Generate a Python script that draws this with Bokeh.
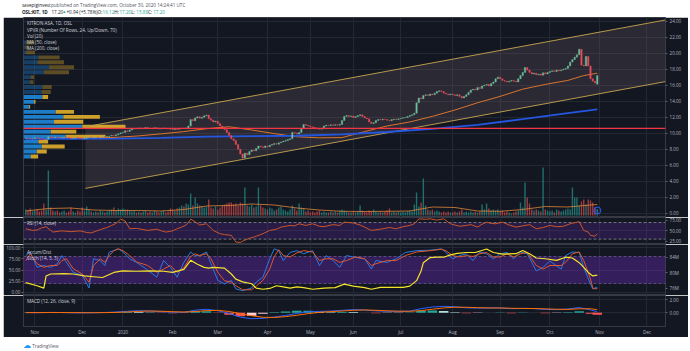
import pandas as pd
from bokeh.plotting import figure
from bokeh.layouts import column
from bokeh.models import (Range1d, LinearAxis, FixedTicker, Label, BoxAnnotation,
                          Span, PrintfTickFormatter, ColumnDataSource)
from bokeh.embed import file_html
from bokeh.resources import INLINE
from bokeh.core.properties import value

# ------------------------------------------------------------------ data
closes = [
    9.40, 9.36, 9.30, 9.34, 9.42, 9.38, 9.31, 9.26, 9.20, 9.24,
    9.56, 9.50, 9.46, 9.52, 9.48, 9.40, 9.44, 9.50, 9.46, 9.41,
    9.32, 9.36, 9.42, 9.38, 9.34, 9.28, 9.36, 9.46, 9.50, 9.44,
    9.48, 9.52, 9.46, 9.50, 9.56, 9.52, 9.60, 9.66, 9.74, 9.68,
    9.80, 9.92, 10.04, 10.10, 10.30, 10.22, 10.40, 10.52, 10.60, 10.56,
    10.66, 10.58, 10.62, 10.70, 10.64, 10.56, 10.60, 10.68, 10.62, 10.54,
    10.58, 10.64, 10.60, 10.56, 10.50, 10.46, 10.54, 10.48, 10.56, 10.62,
    10.58, 10.66, 10.90, 11.70, 11.56, 11.90, 12.06, 11.86, 12.00, 12.18,
    12.26, 11.80, 11.62, 11.40, 11.50, 11.20, 10.90, 10.70, 10.44, 10.10,
    9.70, 9.30, 9.10, 8.60, 8.00, 7.40, 6.90, 7.50, 7.30, 7.70,
    7.90, 7.80, 8.10, 8.40, 8.30, 8.20, 8.40, 8.30, 8.50, 8.60,
    8.70, 8.62, 8.80, 8.90, 9.00, 9.10, 9.20, 9.30, 10.10, 10.00,
    9.90, 10.10, 10.60, 11.10, 11.00, 10.90, 10.80, 10.70, 10.66, 10.56,
    10.50, 10.60, 10.90, 11.00, 10.96, 11.04, 10.98, 11.06, 11.00, 11.10,
    11.60, 12.10, 12.20, 12.10, 12.16, 11.96, 12.08, 12.20, 12.30, 12.10,
    11.90, 11.80, 11.40, 11.20, 11.30, 11.60, 11.70, 11.66, 11.74, 11.70,
    11.62, 11.56, 11.70, 11.76, 11.70, 11.80, 11.86, 11.92, 11.96, 12.10,
    12.20, 12.30, 12.50, 13.80, 14.40, 14.30, 14.70, 14.80, 14.70, 14.90,
    14.80, 15.00, 15.20, 15.30, 15.20, 15.00, 14.90, 14.80, 14.90, 14.80,
    14.70, 14.80, 14.60, 14.40, 14.60, 14.80, 15.10, 15.40, 15.50, 15.40,
    15.70, 15.60, 15.90, 16.00, 16.10, 15.90, 16.20, 16.40, 16.80, 17.00,
    16.80, 16.60, 16.50, 16.40, 16.50, 16.60, 16.50, 16.40, 16.80, 17.20,
    17.60, 18.20, 17.90, 17.60, 17.40, 17.50, 17.30, 17.40, 17.25, 17.55,
    17.40, 17.60, 17.70, 17.80, 17.70, 17.90, 17.80, 17.90, 18.00, 18.10,
    18.40, 18.90, 19.20, 19.50, 19.80, 20.50, 18.50, 18.40, 19.60, 18.40,
    16.80, 16.50, 16.26, 17.20,
]
first_open = 9.38
last_open, last_high, last_low, last_close = 16.12, 17.20, 15.88, 17.20
last_change, last_change_pct = 0.94, 5.78

volumes = [  # million shares
    0.6, 0.5, 0.7, 0.4, 0.5, 0.6, 0.4, 0.5, 1.2, 0.6,
    4.5, 0.8, 0.5, 0.4, 0.5, 0.3, 0.4, 0.5, 0.3, 0.4,
    0.8, 0.4, 0.3, 0.5, 0.4, 0.8, 0.5, 0.9, 0.6, 0.4,
    0.3, 0.4, 0.3, 0.5, 0.4, 0.3, 0.4, 0.5, 0.6, 0.8,
    0.5, 0.7, 0.6, 0.7, 0.6, 0.6, 0.5, 0.4, 0.5, 0.3,
    0.4, 0.3, 0.4, 0.5, 0.3, 0.4, 0.3, 0.5, 0.4, 0.3,
    0.4, 0.5, 0.3, 0.4, 0.7, 0.6, 0.5, 0.7, 0.8, 1.0,
    0.9, 1.2, 1.1, 2.2, 1.0, 1.8, 1.2, 1.0, 0.9, 0.8,
    0.9, 1.6, 0.8, 0.7, 0.9, 0.6, 0.8, 1.0, 1.1, 1.2,
    1.3, 1.3, 1.1, 1.2, 1.0, 1.3, 1.2, 2.8, 1.0, 0.9,
    1.1, 0.8, 0.9, 2.8, 1.0, 0.8, 0.7, 0.6, 0.8, 0.7,
    0.5, 0.6, 0.8, 0.9, 0.6, 0.5, 0.4, 0.6, 1.0, 0.7,
    0.5, 1.2, 0.8, 0.7, 0.4, 0.5, 0.3, 0.4, 0.3, 0.4,
    0.5, 0.3, 0.4, 0.3, 0.3, 0.4, 0.3, 0.4, 0.3, 0.5,
    0.6, 0.5, 0.4, 0.3, 0.3, 0.4, 0.3, 0.4, 1.0, 0.5,
    0.4, 0.3, 0.5, 0.4, 0.6, 0.4, 0.3, 0.4, 0.3, 0.4,
    0.5, 0.7, 0.3, 0.4, 0.3, 0.4, 0.3, 0.4, 0.3, 0.4,
    0.5, 0.4, 1.1, 2.3, 0.9, 1.3, 3.7, 1.0, 0.6, 0.5,
    0.6, 0.4, 0.5, 0.4, 0.3, 0.4, 0.3, 0.4, 0.3, 0.3,
    0.4, 0.3, 0.4, 0.6, 0.3, 0.4, 0.3, 0.4, 0.3, 0.4,
    0.3, 0.4, 1.1, 0.6, 1.2, 0.7, 0.5, 0.6, 0.5, 0.6,
    0.4, 0.5, 0.3, 0.4, 0.3, 0.2, 0.3, 0.4, 0.5, 1.3,
    0.8, 3.3, 1.8, 1.2, 0.6, 0.5, 0.6, 0.5, 0.4, 4.8,
    0.6, 0.5, 0.4, 0.5, 0.3, 0.6, 0.5, 0.4, 0.5, 0.6,
    0.7, 0.6, 2.8, 1.8, 1.8, 1.0, 1.4, 1.6, 1.1, 1.6,
    1.5, 1.3, 0.8, 0.6,
]

volma = [(0, 0.45), (10, 0.70), (20, 0.75), (30, 0.55), (40, 0.50), (50, 0.50),
         (60, 0.45), (70, 0.60), (80, 0.95), (90, 1.00), (100, 1.15), (110, 1.05),
         (120, 0.75), (130, 0.55), (140, 0.42), (150, 0.40), (160, 0.42), (170, 0.45),
         (180, 0.85), (190, 0.80), (200, 0.45), (210, 0.42), (220, 0.60), (230, 0.90),
         (240, 0.85), (250, 1.05), (253, 1.10)]

ma50 = [(0, 9.32), (10, 9.34), (20, 9.37), (30, 9.40), (40, 9.48), (50, 9.66),
        (60, 9.92), (70, 10.20), (80, 10.56), (90, 10.80), (100, 10.40), (110, 9.95),
        (120, 9.55), (130, 9.42), (140, 9.45), (150, 10.20), (160, 10.90), (170, 11.40),
        (180, 12.10), (190, 12.90), (200, 13.80), (210, 14.60), (220, 15.50),
        (230, 16.10), (240, 16.60), (247, 17.20), (253, 17.50)]

ma200 = [(0, 9.28), (20, 9.30), (40, 9.32), (60, 9.42), (80, 9.58), (100, 9.64),
         (120, 9.68), (140, 9.85), (160, 10.15), (180, 10.55), (200, 11.05),
         (220, 11.75), (240, 12.50), (253, 12.98)]

hline_level = 10.60

channel_i = [26.4, 283.2]
channel_low = [3.10, 16.45]
channel_high = [10.80, 24.15]

# volume profile (24 rows, bottom -> top), relative volume
vp_low, vp_high = 6.78, 21.65
vp_up = [22, 40, 55, 45, 127, 82, 177, 92, 120, 97, 17, 32,
         57, 55, 57, 20, 22, 62, 77, 42, 45, 7, 5, 7]
vp_down = [22, 30, 69, 29, 120, 77, 130, 88, 110, 55, 3, 4,
           17, 27, 28, 10, 10, 75, 75, 80, 64, 27, 12, 25]
vp_value_area_rows = 13

rsi = [(0, 55), (3, 51), (5, 52), (7, 57), (9, 60), (12, 47), (16, 50), (20, 48),
       (24, 50), (27, 46), (29, 45), (33, 53), (36, 58), (38, 63), (40, 68), (42, 78),
       (44, 74), (46, 55), (49, 56), (52, 53), (54, 51), (58, 54), (60, 50), (62, 47),
       (65, 50), (67, 55), (69, 59), (71, 64), (73, 78), (75, 72), (77, 64), (80, 67),
       (83, 51), (86, 43), (88, 41), (91, 39), (93, 23), (95, 22), (96, 25), (99, 32),
       (101, 35), (105, 43), (108, 51), (111, 54), (113, 59), (117, 63), (119, 62),
       (121, 67), (124, 63), (127, 67), (130, 61), (132, 60), (136, 65), (139, 63),
       (141, 71), (145, 69), (148, 64), (150, 59), (153, 51), (157, 54), (161, 58),
       (164, 55), (167, 60), (170, 63), (172, 67), (174, 79), (177, 78), (179, 79),
       (182, 76), (185, 79), (188, 67), (190, 64), (192, 61), (195, 63), (197, 65),
       (200, 59), (202, 66), (204, 71), (206, 68), (208, 67), (211, 71), (214, 64),
       (217, 59), (220, 62), (223, 65), (226, 55), (229, 58), (232, 63), (235, 60),
       (238, 61), (241, 67), (244, 71), (245, 72), (247, 51), (249, 47), (250, 39),
       (252, 37), (253, 43)]

stoch = [(0, 82, 71), (2, 90, 86), (5, 56, 64), (8, 60, 56), (11, 56, 60), (14, 64, 60),
         (16, 82, 71), (18, 67, 75), (21, 45, 53), (25, 38, 41), (28, 10, 23), (30, 75, 60),
         (33, 71, 75), (35, 60, 67), (37, 90, 82), (39, 93, 93), (41, 97, 97), (43, 90, 93),
         (46, 75, 82), (49, 67, 68), (54, 50, 60), (58, 34, 45), (61, 71, 52), (64, 56, 60),
         (67, 34, 45), (70, 67, 55), (73, 90, 80), (75, 82, 86), (77, 82, 82), (80, 90, 86),
         (82, 64, 75), (85, 27, 45), (88, 19, 26), (91, 27, 23), (93, 8, 15), (96, 4, 6),
         (100, 10, 6), (102, 23, 14), (105, 34, 27), (108, 75, 52), (110, 97, 80),
         (112, 93, 95), (114, 71, 82), (117, 89, 79), (120, 93, 88), (123, 86, 93),
         (127, 93, 90), (130, 60, 71), (133, 82, 75), (136, 71, 75), (139, 56, 67),
         (142, 82, 71), (146, 78, 79), (150, 75, 75), (153, 52, 60), (155, 71, 64),
         (160, 67, 71), (164, 75, 71), (168, 89, 82), (173, 93, 90), (179, 94, 93),
         (184, 97, 96), (186, 89, 93), (189, 75, 82), (192, 82, 79), (195, 86, 82),
         (198, 71, 80), (201, 90, 86), (204, 86, 89), (207, 75, 79), (210, 86, 79),
         (213, 89, 86), (216, 75, 79), (219, 90, 86), (222, 86, 89), (226, 48, 60),
         (229, 56, 52), (232, 70, 60), (237, 52, 60), (239, 82, 67), (242, 90, 86),
         (245, 89, 90), (247, 56, 71), (250, 19, 30), (251, 8, 10), (252, 10, 8),
         (253, 12, 9)]

accum_dist = [(0, 77.5), (5, 76.7), (8, 76.1), (9, 79.2), (11, 79.7), (17, 79.8),
              (21, 79.7), (26, 79.2), (30, 79.0), (34, 78.8), (39, 80.1), (43, 80.5),
              (49, 80.4), (55, 80.5), (61, 80.4), (65, 80.1), (70, 80.9), (73, 83.2),
              (76, 82.2), (79, 81.4), (81, 81.2), (83, 81.4), (88, 81.2), (91, 79.7),
              (93, 78.4), (96, 77.7), (100, 77.2), (102, 76.1), (105, 75.8), (108, 76.0),
              (111, 76.7), (114, 76.4), (117, 76.1), (120, 76.4), (123, 76.2), (127, 75.8),
              (132, 76.1), (137, 76.2), (141, 77.1), (145, 76.6), (150, 76.2), (153, 75.8),
              (157, 76.3), (161, 76.3), (167, 76.3), (170, 76.6), (173, 78.0), (175, 80.5),
              (176, 82.6), (179, 83.9), (182, 84.0), (185, 84.0), (188, 84.6), (191, 85.0),
              (195, 85.2), (199, 85.2), (204, 86.1), (207, 85.2), (211, 84.8), (217, 84.9),
              (220, 85.7), (223, 84.9), (226, 83.8), (230, 83.6), (235, 83.2), (239, 84.0),
              (242, 83.8), (245, 82.6), (247, 81.4), (249, 80.1), (251, 79.2), (253, 79.4)]

macd = [(0, 0.02, 0.01, 0.01), (5, 0.00, 0.01, -0.01), (10, 0.04, 0.02, 0.02),
        (15, 0.03, 0.02, 0.01), (20, -0.01, 0.01, -0.02), (25, -0.03, 0.00, -0.03),
        (30, 0.00, -0.01, 0.01), (35, 0.03, 0.01, 0.02), (40, 0.10, 0.04, 0.06),
        (45, 0.22, 0.11, 0.11), (50, 0.30, 0.20, 0.10), (55, 0.26, 0.25, 0.01),
        (60, 0.16, 0.22, -0.06), (65, 0.08, 0.15, -0.07), (70, 0.06, 0.10, -0.04),
        (75, 0.38, 0.17, 0.21), (80, 0.52, 0.31, 0.21), (85, 0.30, 0.35, -0.05),
        (90, -0.12, 0.18, -0.30), (95, -0.68, -0.14, -0.54), (100, -0.92, -0.47, -0.45),
        (105, -0.86, -0.70, -0.16), (110, -0.66, -0.73, 0.07), (115, -0.42, -0.60, 0.18),
        (120, -0.12, -0.40, 0.28), (125, 0.14, -0.14, 0.28), (130, 0.20, 0.05, 0.15),
        (135, 0.24, 0.17, 0.07), (140, 0.36, 0.25, 0.11), (145, 0.46, 0.36, 0.10),
        (150, 0.40, 0.41, -0.01), (155, 0.27, 0.36, -0.09), (160, 0.22, 0.28, -0.06),
        (165, 0.20, 0.23, -0.03), (170, 0.23, 0.21, 0.02), (175, 0.62, 0.31, 0.31),
        (180, 0.86, 0.52, 0.34), (185, 0.96, 0.72, 0.24), (190, 0.90, 0.83, 0.07),
        (195, 0.74, 0.82, -0.08), (200, 0.70, 0.76, -0.06), (205, 0.71, 0.72, -0.01),
        (210, 0.73, 0.71, 0.02), (215, 0.60, 0.67, -0.07), (220, 0.66, 0.64, 0.02),
        (225, 0.62, 0.63, -0.01), (230, 0.50, 0.58, -0.08), (235, 0.46, 0.52, -0.06),
        (240, 0.56, 0.50, 0.06), (245, 0.78, 0.58, 0.20), (250, 0.42, 0.60, -0.18),
        (253, 0.12, 0.45, -0.33)]

price_ticks = list(range(0, 25, 2))
oslo_holidays = ["2019-12-24", "2019-12-25", "2019-12-26", "2019-12-31", "2020-01-01",
                 "2020-04-09", "2020-04-10", "2020-04-13", "2020-05-01", "2020-05-21",
                 "2020-06-01", "2020-12-24", "2020-12-25", "2020-12-31"]
first_day, calendar_end = "2019-10-28", "2020-12-31"
dividend_bar = 253

# ------------------------------------------------------------------ derived
n = len(closes)
idx = list(range(n))
opens = [first_open] + closes[:-2] + [last_open]
up = [c >= o for o, c in zip(opens, closes)]
body_lo = [min(o, c) for o, c in zip(opens, closes)]
body_hi = [max(o, c) for o, c in zip(opens, closes)]

cal = pd.bdate_range(first_day, calendar_end)
cal = cal[~cal.isin(pd.to_datetime(oslo_holidays))]
month_ticks, month_labels, seen = [], {}, set()
for k, d in enumerate(cal):
    key = (d.year, d.month)
    if key in seen:
        continue
    seen.add(key)
    if k == 0:
        continue
    month_ticks.append(k)
    month_labels[k] = "2020" if (d.month == 1) else d.strftime("%b")

# ------------------------------------------------------------------ style
BG = "#131722"
GRID = "#242833"
SEP = "#363a45"
TXT = "#b2b5be"
FONT = "Open Sans"
FS = "4.6px"
UPC, DNC = "#6fbf9c", "#ec4d5a"

xr = Range1d(-1.0, 283.2)


def style_axis(ax, tick=True):
    ax.axis_line_color = None
    ax.major_tick_line_color = "#5d606b" if tick else None
    ax.major_tick_out = 2 if tick else 0
    ax.major_tick_in = 0
    ax.minor_tick_line_color = None
    ax.major_label_text_color = TXT
    ax.major_label_text_font = FONT
    ax.major_label_text_font_size = FS
    ax.major_label_standoff = 2


def mkfig(h, yr, yloc="right", xloc=None, bottom=0):
    p = figure(width=685, height=h, x_range=xr, y_range=yr,
               output_backend="svg", toolbar_location=None,
               x_axis_location=xloc, y_axis_location=yloc,
               background_fill_color=BG, border_fill_color=BG,
               min_border_left=18, min_border_right=23,
               min_border_top=0, min_border_bottom=bottom,
               margin=(0, 2, 0, 3))
    p.outline_line_color = SEP
    p.outline_line_width = 1
    p.xgrid.ticker = FixedTicker(ticks=month_ticks)
    p.grid.grid_line_color = GRID
    for ax in p.yaxis:
        style_axis(ax)
    return p


def lab(p, x, y, text, color=TXT, size=FS, bg=None, align="left", bold=False,
        rng="default", border=None):
    p.add_layout(Label(x=x, y=y, text=text, text_color=color, text_font=FONT,
                       text_font_size=size, text_baseline="middle", text_align=align,
                       text_font_style="bold" if bold else "normal",
                       background_fill_color=bg, border_line_color=border,
                       y_range_name=rng))


# ------------------------------------------------------------------ header
hdr = figure(width=690, height=17, x_range=Range1d(0, 690), y_range=Range1d(17, 0),
             output_backend="svg", toolbar_location=None, x_axis_location=None,
             y_axis_location=None, min_border=0, background_fill_color="white",
             border_fill_color="white", outline_line_color=None)
hdr.grid.visible = False
TEAL = "#26a69a"
lab(hdr, 1.5, 4.8, "savepiginvest", "#131722")
lab(hdr, 32.5, 4.8, "published on TradingView.com, October 30, 2020 14:24:41 UTC", "#50535e")
lab(hdr, 1.5, 11, "OSL:KIT, 1D", "#131722", bold=True)
lab(hdr, 33, 11, f"{last_close:.2f}", "#131722")
lab(hdr, 44.5, 11, "\u25B2", TEAL, size="4px")
lab(hdr, 49, 11, f"+{last_change:.2f} (+{last_change_pct:.2f}%)", "#131722")
for lx, name, val in [(82, "O:", last_open), (100, "H:", last_high),
                      (118, "L:", last_low), (136, "C:", last_close)]:
    lab(hdr, lx, 11, name, "#131722")
    lab(hdr, lx + 5.5, 11, f"{val:.2f}", TEAL)

# ------------------------------------------------------------------ main pane
main = mkfig(200, Range1d(-0.54, 24.46))
main.extra_y_ranges = {"vol": Range1d(-0.2, 19.8)}
main.yaxis.ticker = FixedTicker(ticks=price_ticks)
main.ygrid.ticker = FixedTicker(ticks=price_ticks)
main.yaxis.formatter = PrintfTickFormatter(format="%.2f")

main.patch(channel_i + channel_i[::-1], channel_high + channel_low[::-1],
           fill_color="#7a6a72", fill_alpha=0.24, line_color=None)

vsrc = ColumnDataSource(dict(x=idx, top=volumes,
                             c=["#26a69a" if u else "#ef5350" for u in up]))
main.vbar(x="x", top="top", bottom=0, width=0.62, fill_color="c", line_color=None,
          fill_alpha=0.62, source=vsrc, y_range_name="vol")
main.line([a for a, b in volma], [b for a, b in volma], line_color="#e0873a",
          line_width=0.8, y_range_name="vol")

# volume profile
nrows = len(vp_up)
step = (vp_high - vp_low) / nrows
centers = [vp_low + (k + 0.5) * step for k in range(nrows)]
VP_SCALE = 1 / 6.8
x0 = xr.start
up_r = [x0 + u * VP_SCALE for u in vp_up]
dn_r = [r + d * VP_SCALE for r, d in zip(up_r, vp_down)]
alphas = [0.8 if k < vp_value_area_rows else 0.32 for k in range(nrows)]
vp_src = ColumnDataSource(dict(y=centers, l=[x0] * nrows, ur=up_r, dr=dn_r, a=alphas))
main.hbar(y="y", left="l", right="ur", height=step * 0.78, fill_color="#2196f3",
          fill_alpha="a", line_color=None, source=vp_src)
main.hbar(y="y", left="ur", right="dr", height=step * 0.78, fill_color="#fbc02d",
          fill_alpha="a", line_color=None, source=vp_src)

main.line(channel_i, channel_high, line_color="#b8994c", line_width=1)
main.line(channel_i, channel_low, line_color="#b8994c", line_width=1)
main.line([a for a, b in ma50], [b for a, b in ma50], line_color="#d9742e", line_width=1)
main.line([a for a, b in ma200], [b for a, b in ma200], line_color="#2456e0", line_width=1.8)
main.add_layout(Span(location=hline_level, dimension="width", line_color="#f23645",
                     line_width=1.2))

csrc = ColumnDataSource(dict(x=idx, b=body_lo, t=body_hi,
                             c=[UPC if u else DNC for u in up]))
main.vbar(x="x", bottom="b", top="t", width=0.62, fill_color="c", line_color="c",
          line_width=0.4, source=csrc)

main.scatter([dividend_bar], [0.5], size=7, marker="circle", fill_color=None,
             line_color="#2962ff", line_width=1, y_range_name="vol")
main.text([dividend_bar], [0.5], text=["D"], text_color="#2962ff",
          text_font=value(FONT), text_font_size="4px", text_align="center",
          text_baseline="middle", y_range_name="vol")

legend = ["KITRON ASA, 1D, OSL", "VPVR (Number Of Rows, 24, Up/Down, 70)", "Vol (20)",
          "MA (50, close)", "MA (200, close)"]
for k, t in enumerate(legend):
    lab(main, 0.5, 23.75 - k * 0.79, t, "#d1d4dc")

lab(main, 284.2, closes[-1], f"{closes[-1]:.2f}", "#131722", bg="#9fdcb8")
lab(main, 284.2, closes[-1] - 0.85, "01:05:19", "#131722", size="4.2px", bg="#9fdcb8")
lab(main, 284.2, hline_level, f"{hline_level:.2f}", "white", bg="#f23645")
lab(main, 285.0, 23.3, "NOK", TXT, size="4.2px", bg=BG, border="#5d606b")

# ------------------------------------------------------------------ RSI pane
rsi_p = mkfig(27, Range1d(17.0, 82.2))
rsi_p.yaxis.ticker = FixedTicker(ticks=[25, 50, 75])
rsi_p.ygrid.ticker = FixedTicker(ticks=[50])
rsi_p.yaxis.formatter = PrintfTickFormatter(format="%.2f")
rsi_p.add_layout(BoxAnnotation(bottom=30, top=70, fill_color="#7c2fd6", fill_alpha=0.2,
                               line_color=None, level="underlay"))
for lv in (30, 70):
    rsi_p.add_layout(Span(location=lv, dimension="width", line_color="#8a8d96",
                          line_dash="3 2", line_width=0.8, level="underlay"))
rsi_p.line([a for a, b in rsi], [b for a, b in rsi], line_color="#c9562c", line_width=1)
lab(rsi_p, 0.5, 68.5, "RSI (14, close)", "#d1d4dc")

# ------------------------------------------------------------------ Stoch / AD pane
st = mkfig(51, Range1d(-6.7, 106.7), yloc="left")
st.extra_y_ranges = {"ad": Range1d(74.2, 87.25)}
st.yaxis.ticker = FixedTicker(ticks=[0, 25, 50, 75, 100])
st.yaxis.formatter = PrintfTickFormatter(format="%.2f")
st.yaxis.major_label_standoff = 1
st.ygrid.ticker = FixedTicker(ticks=[0, 50, 100])
ad_axis = LinearAxis(y_range_name="ad", ticker=FixedTicker(ticks=[76, 80, 84]),
                     formatter=PrintfTickFormatter(format="%dM"))
style_axis(ad_axis)
st.add_layout(ad_axis, "right")
st.add_layout(BoxAnnotation(bottom=20, top=80, fill_color="#7c2fd6", fill_alpha=0.33,
                            line_color=None, level="underlay"))
for lv in (20, 80):
    st.add_layout(Span(location=lv, dimension="width", line_color="#6a5a8e",
                       line_dash="3 2", line_width=0.8, level="underlay"))
st.line([a for a, b, c in stoch], [b for a, b, c in stoch], line_color="#2a7ae2", line_width=1)
st.line([a for a, b, c in stoch], [c for a, b, c in stoch], line_color="#e0582a", line_width=1)
st.line([a for a, b in accum_dist], [b for a, b in accum_dist], line_color="#f5e42c",
        line_width=1.2, y_range_name="ad")
lab(st, 0.5, 89.6, "Accum/Dist", "#d1d4dc")
lab(st, 0.5, 77.1, "Stoch (14, 3, 3)", "#d1d4dc")

# ------------------------------------------------------------------ MACD pane
mp = mkfig(42, Range1d(-2.1, 2.61), xloc="below", bottom=9)
mp.yaxis.ticker = FixedTicker(ticks=[0, 2])
mp.ygrid.ticker = FixedTicker(ticks=[0, 2])
mp.yaxis.formatter = PrintfTickFormatter(format="%.2f")
mp.xaxis.ticker = FixedTicker(ticks=month_ticks)
mp.xaxis.major_label_overrides = month_labels
style_axis(mp.xaxis[0], tick=False)
mh = [h for a, b, c, h in macd]
hcol = []
for k, h in enumerate(mh):
    prev = mh[k - 1] if k else h
    if h >= 0:
        hcol.append("#26a69a" if h >= prev else "#b2dfdb")
    else:
        hcol.append("#ffcdd2" if h > prev else "#ff5252")
mp.vbar(x=[a for a, b, c, h in macd], top=mh, bottom=0, width=4.2, fill_color=hcol,
        line_color=None)
mp.line([a for a, b, c, h in macd], [b for a, b, c, h in macd], line_color="#2962ff", line_width=1)
mp.line([a for a, b, c, h in macd], [c for a, b, c, h in macd], line_color="#ff6d00", line_width=1)
lab(mp, 0.5, 1.8, "MACD (12, 26, close, 9)", "#d1d4dc")
lab(mp, -6.0, -2.67, "?", TXT, align="center")
lab(mp, 288.0, -2.67, "A", TXT, align="center")

# ------------------------------------------------------------------ footer
ft = figure(width=690, height=14, x_range=Range1d(0, 690), y_range=Range1d(14, 0),
            output_backend="svg", toolbar_location=None, x_axis_location=None,
            y_axis_location=None, min_border=0, background_fill_color="white",
            border_fill_color="white", outline_line_color=None)
ft.grid.visible = False
ft.add_layout(Label(x=3, y=8, text="\u2601", text_color="#2196f3", text_font="DejaVu Sans",
                    text_font_size="8px", text_baseline="middle"))
lab(ft, 12.5, 8.3, "TradingView", "#50535e")

layout = column(hdr, main, rsi_p, st, mp, ft, spacing=0)
open("out.html", "w").write(file_html(layout, INLINE))
